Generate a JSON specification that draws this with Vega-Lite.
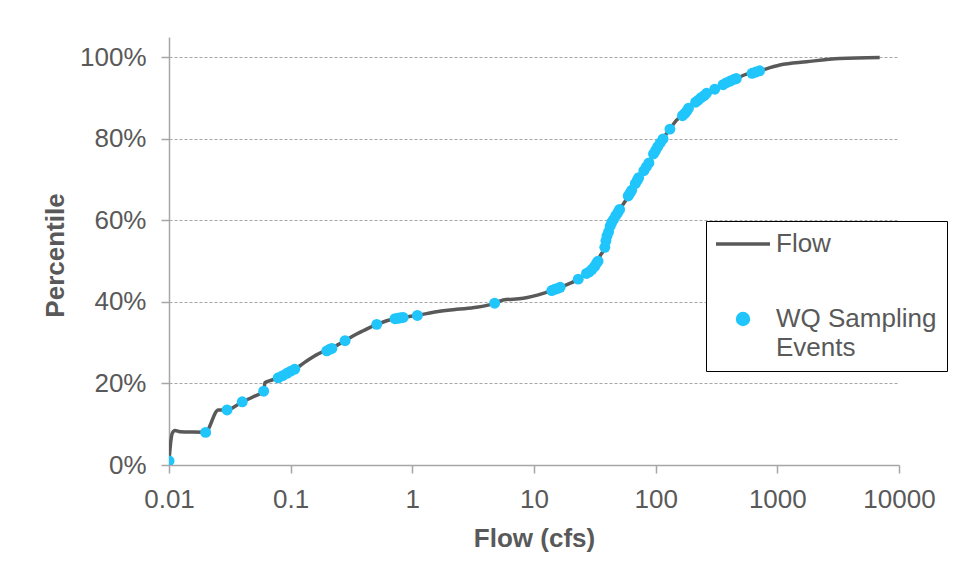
{
  "$schema": "https://vega.github.io/schema/vega-lite/v6.json",
  "width": 730,
  "height": 428,
  "autosize": "none",
  "padding": {"left": 169, "top": 37, "right": 57, "bottom": 116},
  "background": "white",
  "datasets": {
    "flow": [
      {"flow": 0.01, "pct": 0.008},
      {"flow": 0.0102, "pct": 0.04},
      {"flow": 0.01064, "pct": 0.0778},
      {"flow": 0.0112, "pct": 0.0845},
      {"flow": 0.01231, "pct": 0.0817},
      {"flow": 0.01913, "pct": 0.0802},
      {"flow": 0.0199, "pct": 0.08},
      {"flow": 0.0254, "pct": 0.1349},
      {"flow": 0.0298, "pct": 0.135},
      {"flow": 0.0398, "pct": 0.1545},
      {"flow": 0.0493, "pct": 0.1675},
      {"flow": 0.06, "pct": 0.1808},
      {"flow": 0.0615, "pct": 0.2019},
      {"flow": 0.0676, "pct": 0.2068},
      {"flow": 0.0791, "pct": 0.2141},
      {"flow": 0.0927, "pct": 0.2249},
      {"flow": 0.1084, "pct": 0.2347},
      {"flow": 0.127, "pct": 0.2494},
      {"flow": 0.1534, "pct": 0.2656},
      {"flow": 0.1853, "pct": 0.2779},
      {"flow": 0.1976, "pct": 0.2804},
      {"flow": 0.2173, "pct": 0.2862},
      {"flow": 0.2794, "pct": 0.3049},
      {"flow": 0.3486, "pct": 0.3213},
      {"flow": 0.395, "pct": 0.3294},
      {"flow": 0.509, "pct": 0.3451},
      {"flow": 0.743, "pct": 0.3598},
      {"flow": 0.842, "pct": 0.3623},
      {"flow": 1.097, "pct": 0.3672},
      {"flow": 1.584, "pct": 0.376},
      {"flow": 2.312, "pct": 0.3819},
      {"flow": 3.376, "pct": 0.3868},
      {"flow": 4.745, "pct": 0.3966},
      {"flow": 5.583, "pct": 0.4047},
      {"flow": 8.152, "pct": 0.4089},
      {"flow": 11.9, "pct": 0.4211},
      {"flow": 14.38, "pct": 0.4292},
      {"flow": 16.33, "pct": 0.4359},
      {"flow": 23.08, "pct": 0.4555},
      {"flow": 27.05, "pct": 0.4702},
      {"flow": 30.65, "pct": 0.4825},
      {"flow": 32.69, "pct": 0.4947},
      {"flow": 35.26, "pct": 0.5151},
      {"flow": 38.24, "pct": 0.534},
      {"flow": 39.5, "pct": 0.56},
      {"flow": 42.05, "pct": 0.5845},
      {"flow": 44.75, "pct": 0.6009},
      {"flow": 50.13, "pct": 0.6255},
      {"flow": 55.84, "pct": 0.6458},
      {"flow": 61.38, "pct": 0.6664},
      {"flow": 69.67, "pct": 0.6949},
      {"flow": 84.19, "pct": 0.7317},
      {"flow": 98.5, "pct": 0.7685},
      {"flow": 115.2, "pct": 0.8013},
      {"flow": 130.8, "pct": 0.8241},
      {"flow": 148.5, "pct": 0.8462},
      {"flow": 173.7, "pct": 0.8626},
      {"flow": 185.0, "pct": 0.8749},
      {"flow": 223.5, "pct": 0.8953},
      {"flow": 262.0, "pct": 0.9117},
      {"flow": 306.5, "pct": 0.9215},
      {"flow": 370.4, "pct": 0.9362},
      {"flow": 447.6, "pct": 0.946},
      {"flow": 558.4, "pct": 0.959},
      {"flow": 632.5, "pct": 0.9622},
      {"flow": 718.2, "pct": 0.9671},
      {"flow": 1048, "pct": 0.9811},
      {"flow": 1738, "pct": 0.9892},
      {"flow": 3256, "pct": 0.9975},
      {"flow": 6941, "pct": 1.0}
    ],
    "wq": [
      {"flow": 0.01, "pct": 0.01},
      {"flow": 0.02, "pct": 0.08},
      {"flow": 0.03, "pct": 0.135},
      {"flow": 0.04, "pct": 0.155},
      {"flow": 0.06, "pct": 0.181},
      {"flow": 0.079, "pct": 0.214},
      {"flow": 0.086, "pct": 0.219},
      {"flow": 0.093, "pct": 0.225},
      {"flow": 0.1, "pct": 0.23},
      {"flow": 0.108, "pct": 0.235},
      {"flow": 0.198, "pct": 0.28},
      {"flow": 0.21, "pct": 0.284},
      {"flow": 0.218, "pct": 0.286},
      {"flow": 0.28, "pct": 0.305},
      {"flow": 0.51, "pct": 0.345},
      {"flow": 0.72, "pct": 0.359},
      {"flow": 0.76, "pct": 0.36},
      {"flow": 0.8, "pct": 0.361},
      {"flow": 0.84, "pct": 0.362},
      {"flow": 1.1, "pct": 0.367},
      {"flow": 4.75, "pct": 0.397},
      {"flow": 14.0, "pct": 0.428},
      {"flow": 14.8, "pct": 0.431},
      {"flow": 15.6, "pct": 0.433},
      {"flow": 16.4, "pct": 0.436},
      {"flow": 23.1, "pct": 0.456},
      {"flow": 27.0, "pct": 0.47},
      {"flow": 28.5, "pct": 0.474},
      {"flow": 30.0, "pct": 0.48},
      {"flow": 31.5, "pct": 0.487},
      {"flow": 32.7, "pct": 0.495},
      {"flow": 33.6, "pct": 0.5},
      {"flow": 38.2, "pct": 0.534},
      {"flow": 39.0, "pct": 0.55},
      {"flow": 39.8, "pct": 0.562},
      {"flow": 41.0, "pct": 0.572},
      {"flow": 42.3, "pct": 0.586},
      {"flow": 43.5, "pct": 0.595},
      {"flow": 45.0, "pct": 0.602},
      {"flow": 47.0, "pct": 0.612},
      {"flow": 49.0, "pct": 0.62},
      {"flow": 50.5, "pct": 0.627},
      {"flow": 59.5, "pct": 0.66},
      {"flow": 61.5, "pct": 0.667},
      {"flow": 63.5, "pct": 0.674},
      {"flow": 68.0, "pct": 0.69},
      {"flow": 70.5, "pct": 0.698},
      {"flow": 72.5, "pct": 0.705},
      {"flow": 80.0, "pct": 0.722},
      {"flow": 84.0, "pct": 0.732},
      {"flow": 88.0, "pct": 0.741},
      {"flow": 96.0, "pct": 0.763},
      {"flow": 100.0, "pct": 0.772},
      {"flow": 104.0, "pct": 0.781},
      {"flow": 109.0, "pct": 0.79},
      {"flow": 115.0, "pct": 0.8},
      {"flow": 131.0, "pct": 0.824},
      {"flow": 166.0, "pct": 0.857},
      {"flow": 173.0, "pct": 0.862},
      {"flow": 180.0, "pct": 0.868},
      {"flow": 186.0, "pct": 0.875},
      {"flow": 213.0, "pct": 0.89},
      {"flow": 224.0, "pct": 0.895},
      {"flow": 236.0, "pct": 0.901},
      {"flow": 250.0, "pct": 0.906},
      {"flow": 262.0, "pct": 0.912},
      {"flow": 306.0, "pct": 0.922},
      {"flow": 358.0, "pct": 0.933},
      {"flow": 382.0, "pct": 0.938},
      {"flow": 410.0, "pct": 0.942},
      {"flow": 440.0, "pct": 0.946},
      {"flow": 460.0, "pct": 0.948},
      {"flow": 620.0, "pct": 0.961},
      {"flow": 665.0, "pct": 0.964},
      {"flow": 715.0, "pct": 0.967}
    ]
  },
  "config": {
    "font": "Liberation Sans",
    "view": {"stroke": null},
    "axis": {
      "labelFont": "Liberation Sans",
      "titleFont": "Liberation Sans",
      "labelFontSize": 26,
      "titleFontSize": 26,
      "labelColor": "#595959",
      "titleColor": "#595959",
      "titleFontWeight": "bold",
      "domainColor": "#A6A6A6",
      "tickColor": "#A6A6A6",
      "domainWidth": 1.5,
      "tickWidth": 1.5,
      "tickSize": 8
    }
  },
  "layer": [
    {
      "data": {"name": "flow"},
      "mark": {"type": "line", "strokeWidth": 3.5, "interpolate": "monotone", "clip": true},
      "encoding": {
        "x": {
          "field": "flow",
          "type": "quantitative",
          "scale": {"type": "log", "domain": [0.01, 10000], "nice": false},
          "axis": {
            "title": "Flow (cfs)",
            "values": [0.01, 0.1, 1, 10, 100, 1000, 10000],
            "labelExpr": "format(datum.value, '~g')",
            "grid": false,
            "labelPadding": 13,
            "labelFlush": false,
            "labelOverlap": false,
            "titleBaseline": "alphabetic",
            "titleY": 81,
            "titleX": 365
          }
        },
        "y": {
          "field": "pct",
          "type": "quantitative",
          "scale": {"domain": [0, 1.05], "nice": false},
          "axis": {
            "title": "Percentile",
            "values": [0, 0.2, 0.4, 0.6, 0.8, 1.0],
            "format": ".0%",
            "grid": true,
            "gridColor": "#A6A6A6",
            "gridDash": [3, 2],
            "gridWidth": 1.2,
            "labelPadding": 15,
            "titleAngle": -90,
            "titleBaseline": "alphabetic",
            "titleAlign": "center",
            "titleX": -106,
            "titleY": 218
          }
        },
        "color": {
          "datum": "Flow",
          "type": "nominal",
          "scale": {"domain": ["Flow", "WQ Sampling Events"], "range": ["#595959", "#1FC5FB"]},
          "legend": {
            "title": null,
            "orient": "none",
            "legendX": 537,
            "legendY": 184,
            "strokeColor": "#000000",
            "fillColor": "#FFFFFF",
            "padding": 10,
            "labelFont": "Liberation Sans",
            "labelFontSize": 26,
            "labelColor": "#595959",
            "labelOffset": 6,
            "labelLimit": 400,
            "symbolSize": 2916,
            "symbolStrokeWidth": 3.5,
            "rowPadding": 49,
            "labelExpr": "datum.label == 'WQ Sampling Events' ? ['WQ Sampling', 'Events'] : datum.label",
            "encode": {
              "symbols": {
                "update": {
                  "x": {"value": 27},
                  "shape": {"signal": "datum.value == 'Flow' ? 'stroke' : 'circle'"},
                  "size": {"signal": "datum.value == 'Flow' ? 2916 : 120"},
                  "fill": {"signal": "datum.value == 'Flow' ? 'transparent' : '#1FC5FB'"},
                  "stroke": {"signal": "datum.value == 'Flow' ? '#595959' : 'transparent'"},
                  "strokeWidth": {"value": 3.5}
                }
              },
              "labels": {
                "update": {
                  "x": {"value": 60},
                  "lineHeight": {"value": 29}
                }
              }
            }
          }
        }
      }
    },
    {
      "data": {"name": "wq"},
      "mark": {"type": "point", "filled": true, "size": 120, "opacity": 1, "clip": true},
      "encoding": {
        "x": {"field": "flow", "type": "quantitative"},
        "y": {"field": "pct", "type": "quantitative"},
        "color": {"datum": "WQ Sampling Events", "type": "nominal"}
      }
    }
  ]
}
